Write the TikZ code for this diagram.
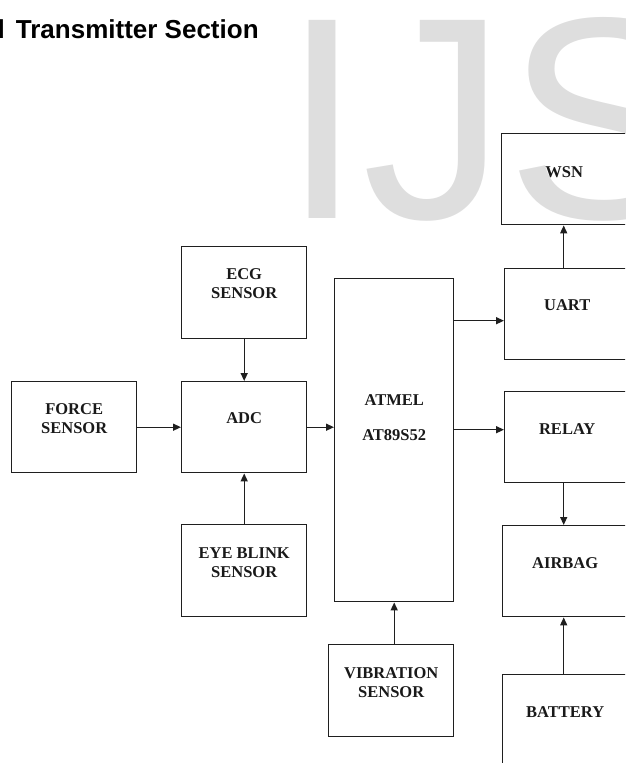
\documentclass[tikz,border=0pt]{standalone}
\usepackage{fontspec}
\setmainfont{Liberation Serif}
\newfontfamily\arialfont{Liberation Sans}
\usetikzlibrary{arrows.meta}
\definecolor{wm}{gray}{0.87}
\definecolor{ln}{gray}{0.12}
\begin{document}
\begin{tikzpicture}[x=1pt,y=-1pt,
  box/.style={draw=ln,line width=1.4pt,inner sep=0pt,anchor=north west},
  lbl/.style={font=\bfseries\fontsize{16.5}{19}\selectfont,align=center,inner sep=0pt,text=black!90},
  arr/.style={draw=ln,line width=1.4pt,-{Triangle[length=8pt,width=7pt]}}]
\useasboundingbox (0,0) rectangle (625,763);
\clip (0,0) rectangle (625,763);
% watermark
\node[anchor=base west,inner sep=0pt,text=wm,font=\arialfont\fontsize{288}{288}\selectfont] (wmark) at (282,218) {IJS};
% title
\node[anchor=base west,inner sep=0pt,font=\arialfont\bfseries\fontsize{26}{30}\selectfont] (title) at (-2.5,38) {l\hspace{11pt}Transmitter Section};
% boxes
\node[box,minimum width=125pt,minimum height=91pt] (wsn) at (501,133) {};
\node[box,minimum width=125pt,minimum height=91pt] (uart) at (504,268) {};
\node[box,minimum width=125pt,minimum height=91pt] (relay) at (504,391) {};
\node[box,minimum width=125pt,minimum height=91pt] (airbag) at (502,525) {};
\node[box,minimum width=125pt,minimum height=91pt] (battery) at (502,674) {};
\node[box,minimum width=125pt,minimum height=92pt] (ecg) at (181,246) {};
\node[box,minimum width=125pt,minimum height=91pt] (force) at (11,381) {};
\node[box,minimum width=125pt,minimum height=91pt] (adc) at (181,381) {};
\node[box,minimum width=125pt,minimum height=92pt] (eye) at (181,524) {};
\node[box,minimum width=119pt,minimum height=323pt] (atmel) at (334,278) {};
\node[box,minimum width=125pt,minimum height=92pt] (vib) at (328,644) {};
% labels
\node[lbl] (wsn-t) at ([yshift=7.5pt]wsn.center) {WSN};
\node[lbl] (uart-t) at ([yshift=9.5pt]uart.center) {UART};
\node[lbl] (relay-t) at ([yshift=8.5pt]relay.center) {RELAY};
\node[lbl] (airbag-t) at ([yshift=8.5pt]airbag.center) {AIRBAG};
\node[lbl] (battery-t) at ([yshift=8pt]battery.center) {BATTERY};
\node[lbl] (ecg-t) at ([yshift=9.5pt]ecg.center) {ECG\\SENSOR};
\node[lbl] (force-t) at ([yshift=9pt]force.center) {FORCE\\SENSOR};
\node[lbl] (adc-t) at ([yshift=9.5pt]adc.center) {ADC};
\node[lbl] (eye-t) at ([yshift=8.5pt]eye.center) {EYE BLINK\\SENSOR};
\node[lbl] (vib-t) at ([yshift=8.5pt]vib.center) {VIBRATION\\SENSOR};
\node[lbl] (atmel-t) at ([yshift=23pt]atmel.center) {ATMEL\\[16pt]AT89S52};
% connectors
\draw[arr] (ecg.south) -- (adc.north);
\draw[arr] (eye.north) -- (adc.south);
\draw[arr] (force.east) -- (adc.west);
\draw[arr] (adc.east) -- (adc.east -| atmel.west);
\coordinate (uin) at ([yshift=-6.5pt]uart.west);
\coordinate (rin) at ([yshift=7.5pt]relay.west);
\draw[arr] (atmel.east |- uin) -- (uin);
\draw[arr] (atmel.east |- rin) -- (rin);
\coordinate (wsnin) at ([xshift=-0.5pt]wsn.south);
\draw[arr] (uart.north -| wsnin) -- (wsnin);
\coordinate (abin) at ([xshift=-1.5pt]airbag.north);
\draw[arr] (relay.south -| abin) -- (abin);
\coordinate (abbot) at ([xshift=-1.5pt]airbag.south);
\draw[arr] (battery.north -| abbot) -- (abbot);
\draw[arr] (vib.north -| atmel.south) -- (atmel.south);
\end{tikzpicture}
\end{document}
